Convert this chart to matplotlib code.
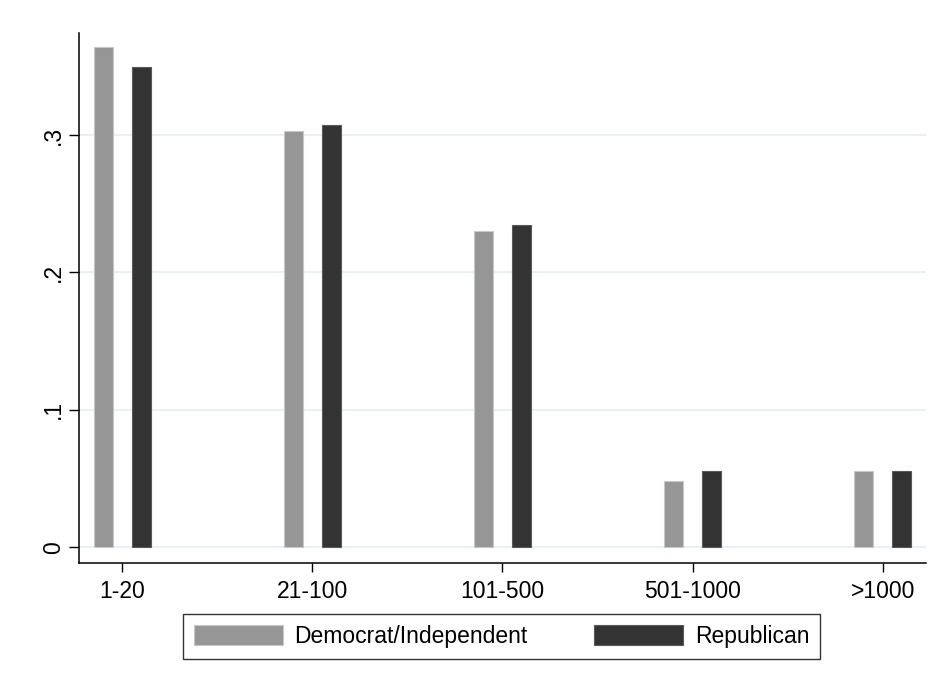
import matplotlib
matplotlib.use('Agg')
import matplotlib.pyplot as plt
import numpy as np

plt.rcParams['font.family'] = ['Liberation Sans', 'DejaVu Sans']

categories = ['1-20', '21-100', '101-500', '501-1000', '>1000']
dem_ind = [0.3643, 0.3032, 0.2304, 0.0480, 0.0558]
republican = [0.3496, 0.3071, 0.2343, 0.0558, 0.0558]

fs = 16.5
fig = plt.figure(figsize=(9.33, 6.87), dpi=100)
ax = fig.add_axes([0.0843, 0.181, 0.9082, 0.771])

x = np.arange(len(categories))
w = 0.1
ax.bar(x - 0.1, dem_ind, width=w, color='#969696', edgecolor='#c8c8c8',
       linewidth=0.8, label='Democrat/Independent', zorder=3)
ax.bar(x + 0.1, republican, width=w, color='#333333', edgecolor='#5a5a5a',
       linewidth=0.8, label='Republican', zorder=3)

ax.set_xlim(-0.229, 4.228)
ax.set_ylim(-0.0112, 0.3743)
ax.set_xticks(x)
ax.set_xticklabels(categories, fontsize=fs)
ax.set_yticks([0, 0.1, 0.2, 0.3])
ax.set_yticklabels(['0', '.1', '.2', '.3'], fontsize=fs, rotation=90, va='center')
ax.tick_params(axis='y', length=7.2, width=1, pad=2.4)
ax.tick_params(axis='x', length=6.5, width=1, pad=5.8)

ax.grid(axis='y', color='#e6eff1', linewidth=1.2, zorder=0)
ax.spines['top'].set_visible(False)
ax.spines['right'].set_visible(False)
for s in ('left', 'bottom'):
    ax.spines[s].set_linewidth(1.1)

leg = fig.legend(loc='center', ncol=2,
                 bbox_to_anchor=(501.5 / 933, 1 - 636.3 / 687),
                 fontsize=fs, frameon=True, fancybox=False, edgecolor='black',
                 handlelength=3.9, handleheight=1.02, borderaxespad=0,
                 borderpad=0.48, handletextpad=0.5, columnspacing=2.9)
leg.get_frame().set_linewidth(1.0)

fig.savefig('out.png', dpi=100)
